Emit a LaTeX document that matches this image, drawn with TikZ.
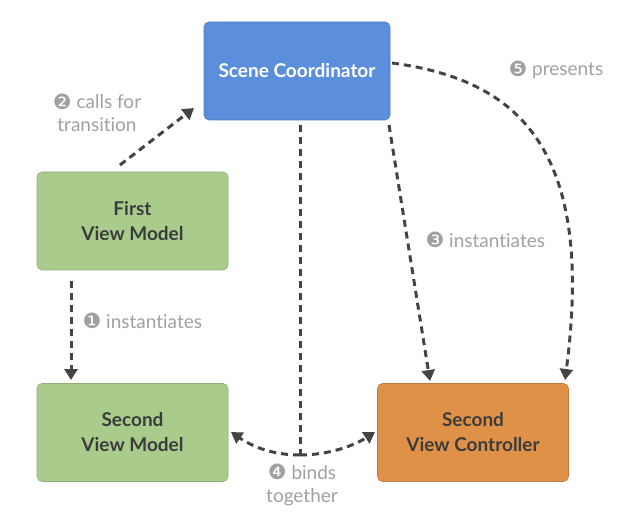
\documentclass[tikz,border=0pt]{standalone}
\usepackage{fontspec}
\setmainfont{Lato}[RawFeature={-liga;-dlig}]
\newfontfamily\dingfont{DejaVu Sans}
\usetikzlibrary{arrows.meta}
\definecolor{sceneblue}{RGB}{91,143,219}
\definecolor{vmgreen}{RGB}{169,204,141}
\definecolor{vcorange}{RGB}{224,145,72}
\definecolor{linegray}{RGB}{68,68,68}
\definecolor{labelgray}{RGB}{160,160,160}
\definecolor{textdark}{RGB}{60,60,60}
\tikzset{
  box/.style={rounded corners=5pt, minimum width=191pt, minimum height=98pt, align=center, font=\bfseries\fontsize{19}{25}\selectfont, draw=#1!85!black, line width=0.6pt, fill=#1, text=textdark},
  conn/.style={draw=linegray, line width=3pt, dash pattern=on 7pt off 5pt, -{Triangle[length=11pt,width=13pt]}},
  plainconn/.style={draw=linegray, line width=3pt, dash pattern=on 7pt off 5pt},
  lbl/.style={text=labelgray, font=\fontsize{19}{23}\selectfont, align=center},
}
\newcommand{\circnum}[1]{{\dingfont\fontsize{21}{21}\selectfont\raisebox{-0.5pt}{#1}}}
\begin{document}
\begin{tikzpicture}[x=1pt,y=-1pt]
\useasboundingbox (0,0) rectangle (642,526);
\node[box=sceneblue, minimum width=186pt, text=white] (scene) at (297,71) {Scene Coordinator};
\node[box=vmgreen] (fvm) at (132.5,221) {First\\View Model};
\node[box=vmgreen] (svm) at (132.5,432.5) {Second\\View Model};
\node[box=vcorange] (svc) at (473,432.5) {Second\\View Controller};

\coordinate (c1s) at (120,165);
\coordinate (c1e) at (194,108);
\draw[conn] (c1s) -- (c1e);
\node[lbl, anchor=center] (l2) at (97,113) {\circnum{❷} calls for\\transition};

\coordinate (i1s) at (71,281);
\coordinate (i1e) at (71,380);
\draw[conn] (i1s) -- (i1e);
\node[lbl, anchor=west] (l1) at (79,321) {\circnum{❶} instantiates};

\coordinate (i3s) at (389,125);
\coordinate (i3e) at (430,381);
\draw[conn] (i3s) -- (i3e);
\node[lbl, anchor=west] (l3) at (422,240) {\circnum{❸} instantiates};

\coordinate (p5s) at (392,63);
\coordinate (p5e) at (565,380);
\draw[conn] (p5s) .. controls (520,80) and (595,150) .. (p5e);
\node[lbl, anchor=west] (l5) at (505,70) {\circnum{❺} presents};

\coordinate (b4t) at (300,125);
\coordinate (b4m) at (300,455);
\coordinate (b4l) at (231,432);
\coordinate (b4r) at (375,432);
\draw[plainconn] (b4t) -- (b4m);
\draw[conn] (b4m) .. controls (270,455) and (250,445) .. (b4l);
\draw[conn] (b4m) .. controls (330,455) and (355,445) .. (b4r);
\node[lbl] (l4) at (302,485) {\circnum{❹} binds\\together};
\end{tikzpicture}
\end{document}
